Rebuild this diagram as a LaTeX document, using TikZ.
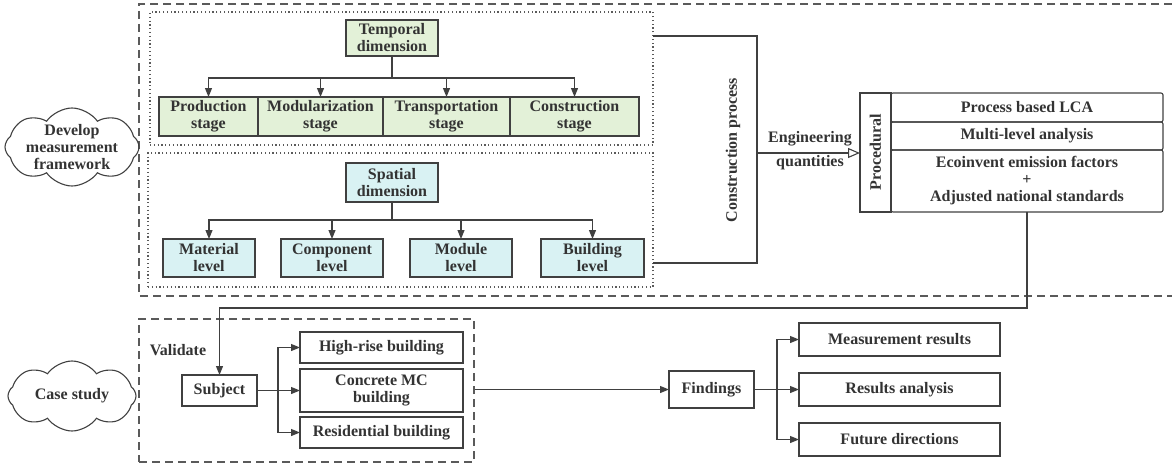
\documentclass[tikz,border=0pt]{standalone}
\usepackage{fontspec}
\setmainfont{Liberation Serif}
\usepackage{xcolor}
\usetikzlibrary{arrows.meta,positioning,shapes.symbols}
\definecolor{boxline}{RGB}{64,64,64}
\definecolor{inktext}{RGB}{51,51,51}
\definecolor{framegray}{RGB}{90,90,90}
\definecolor{tempfill}{RGB}{227,241,216}
\definecolor{spatfill}{RGB}{217,242,243}

\begin{document}
\begin{tikzpicture}[x=1pt, y=-1pt,
  every node/.style={font=\bfseries\fontsize{16}{17}\selectfont, text=inktext},
  box/.style={draw=boxline, line width=1.1pt, align=center, inner sep=2pt, outer sep=0pt},
  tempbox/.style={box, fill=tempfill, minimum height=39},
  spatbox/.style={box, fill=spatfill, minimum height=38},
  plainbox/.style={box, fill=white},
  rowbox/.style={box, rounded corners=2pt, minimum width=272},
  dashbox/.style={draw=framegray, line width=1.1pt, dash pattern=on 8pt off 5pt},
  dotbox/.style={draw=framegray, line width=1.1pt, dash pattern=on 1.2pt off 2.6pt, outer sep=0pt},
  bubble/.style={cloud, cloud puffs=8, cloud puff arc=110, cloud ignores aspect,
                 draw=boxline, line width=1.1pt, align=center, inner xsep=-14pt, inner ysep=-16pt},
  arr/.style={-{Triangle[length=9pt, width=7pt]}, draw=boxline, line width=1.1pt},
  openarr/.style={-{Triangle[open, length=12pt, width=10pt]}, draw=boxline, line width=1.1pt},
  link/.style={draw=boxline, line width=1.1pt}
]
\useasboundingbox (0,0) rectangle (1172,463);

% framework part
\draw[dashbox] (1172,4) -| (139,296) -- (1172,296);
\node[bubble, shape border rotate=22.5, minimum width=134, minimum height=78] (develop) at (72,147) {Develop\\measurement\\framework};
\node[dotbox, minimum width=503, minimum height=133] (tframe) at (401.5,78.5) {};
\node[dotbox, minimum width=505, minimum height=134] (sframe) at (400.5,220) {};

% temporal dimension
\node[tempbox, minimum width=92, minimum height=36] (temporal) at (392,38) {Temporal\\dimension};
\node[tempbox, minimum width=99] (prod) at (208.5,116.5) {Production\\stage};
\node[tempbox, minimum width=125, right=0pt of prod] (modul) {Modularization\\stage};
\node[tempbox, minimum width=127, right=0pt of modul] (trans) {Transportation\\stage};
\node[tempbox, minimum width=129, right=0pt of trans] (constr) {Construction\\stage};
\foreach \s in {prod,modul,trans,constr}
  \draw[arr] (temporal.south) -- ++(0,22) -| (\s.north);

% spatial dimension
\node[spatbox, minimum width=92, minimum height=39] (spatial) at (392,182.5) {Spatial\\dimension};
\node[spatbox, minimum width=92] (material) at (209,258) {Material\\level};
\node[spatbox, minimum width=102, right=26pt of material] (component) {Component\\level};
\node[spatbox, minimum width=102, right=27pt of component] (module) {Module\\level};
\node[spatbox, minimum width=103, right=29pt of module] (building) {Building\\level};
\foreach \s in {material,component,module,building}
  \draw[arr] (spatial.south) -- ++(0,18) -| (\s.north);

% construction process bracket
\coordinate (cpTop) at (757,36);
\coordinate (cpBot) at (757,263);
\coordinate (cpMid) at (757,153);
\draw[link] (tframe.east |- cpTop) -- (cpTop) -- (cpBot) -- (sframe.east |- cpBot);
\node[rotate=90] (cplabel) at (733,150) {Construction process};

% procedural block
\node[plainbox, rotate=90, minimum width=119, minimum height=31] (proc) at (875.5,152.5) {Procedural};
\node[rowbox, minimum height=29] (lca) at (1027,107.5) {Process based LCA};
\node[rowbox, minimum height=28, below=0pt of lca] (multi) {Multi-level analysis};
\node[rowbox, minimum height=62, below=0pt of multi] (ecoinv) {Ecoinvent emission factors\\+\\Adjusted national standards};
\draw[openarr] (cpMid) -- (proc.north |- cpMid);
\node[align=center, font=\bfseries\fontsize{16}{24}\selectfont] (engq) at (810,151) {Engineering\\quantities};

% case study part
\node[bubble, minimum width=128, minimum height=70] (casestudy) at (72,396) {Case study};
\node[dashbox, minimum width=335, minimum height=143] (valframe) at (306.5,390.5) {};
\node (validate) at (178,350) {Validate};
\node[plainbox, minimum width=75, minimum height=31] (subject) at (219.5,390.5) {Subject};
\node[plainbox, minimum width=163, minimum height=31] (hirise) at (381.5,347.5) {High-rise building};
\node[plainbox, minimum width=163, minimum height=43, below=6pt of hirise] (concrete) {Concrete MC\\building};
\node[plainbox, minimum width=163, minimum height=31, below=5pt of concrete] (resid) {Residential building};
\foreach \s in {hirise,concrete,resid}
  \draw[arr] (subject.east) -- ++(21,0) |- (\s.west);

\coordinate (turn) at (1027,308);
\draw[arr] (ecoinv.south) -- (turn) -| (subject.north);

% findings
\node[plainbox, minimum width=85, minimum height=37] (findings) at (711.5,389.5) {Findings};
\draw[arr] (valframe.east |- findings.west) -- (findings.west);
\node[plainbox, minimum width=201, minimum height=33] (measres) at (899.5,339.5) {Measurement results};
\node[plainbox, minimum width=201, minimum height=33, below=17pt of measres] (resana) {Results analysis};
\node[plainbox, minimum width=201, minimum height=33, below=17pt of resana] (future) {Future directions};
\foreach \s in {measres,resana,future}
  \draw[arr] (findings.east) -- ++(23,0) |- (\s.west);
\end{tikzpicture}
\end{document}
